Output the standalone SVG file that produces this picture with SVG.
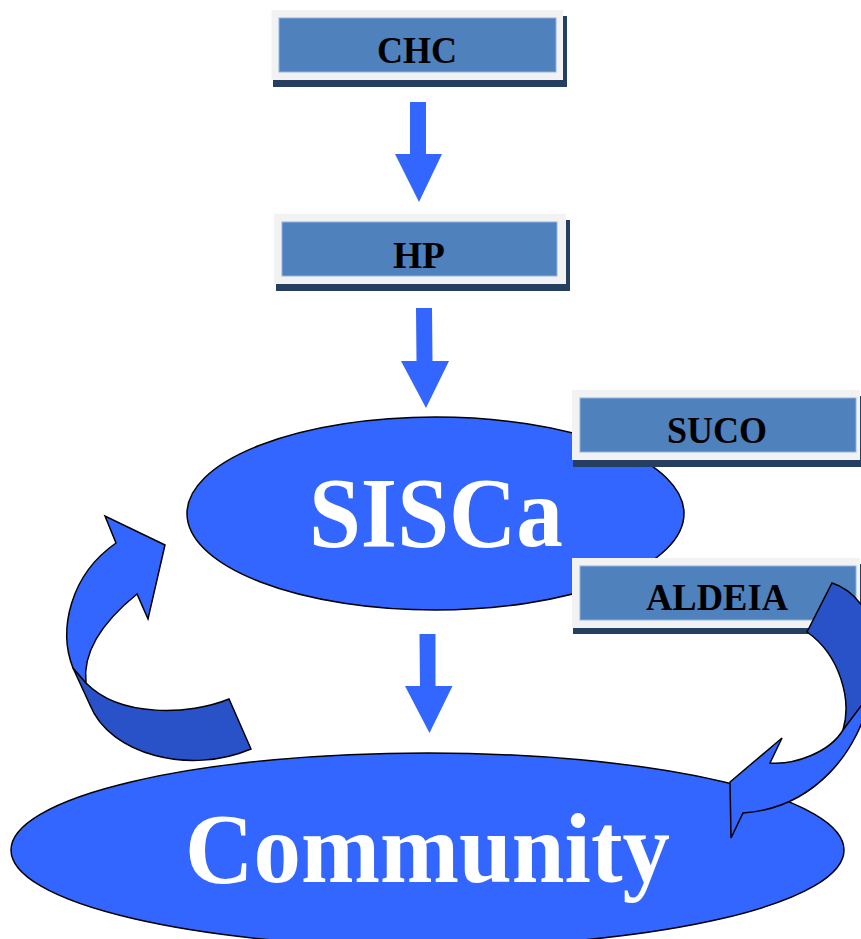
<svg xmlns="http://www.w3.org/2000/svg" width="861" height="939" viewBox="0 0 861 939">
<style>
.sh{fill:#243F60}
.outer{fill:#F2F2F2}
.inner{fill:#4F81BD;stroke:#8DB3E2;stroke-width:1}
.lbl{font-family:"Liberation Serif","Times New Roman",serif;font-weight:bold;font-size:37px;fill:#000;text-anchor:middle}
.big{font-family:"Liberation Serif","Times New Roman",serif;font-weight:bold;font-size:99px;fill:#FFF;text-anchor:middle}
.ell{fill:#3366FF;stroke:#000;stroke-width:1.5}
.arr{fill:#3366FF}
.cl{fill:#3366FF;stroke:#000;stroke-width:1.5;stroke-linejoin:miter}
.cd{fill:#2952C8;stroke:#000;stroke-width:1.5;stroke-linejoin:miter}
</style>
<rect width="861" height="939" fill="#FFFFFF"/>
<g id="sisca">
<ellipse class="ell" cx="435.5" cy="513.5" rx="248.5" ry="96.5"/>
<text class="big" x="436" y="546" textLength="254" lengthAdjust="spacingAndGlyphs">SISCa</text>
</g>
<g id="community">
<ellipse class="ell" cx="427.5" cy="850" rx="416.5" ry="97"/>
<text class="big" x="427.5" y="882" textLength="485" lengthAdjust="spacingAndGlyphs">Community</text>
</g>
<g id="chc">
<rect class="sh" x="273" y="16" width="294" height="71"/>
<rect class="outer" x="271.5" y="10" width="291.5" height="70"/>
<rect class="inner" x="279" y="18" width="277" height="54"/>
<text class="lbl" x="417" y="63" textLength="80" lengthAdjust="spacingAndGlyphs">CHC</text>
</g>
<g id="hp">
<rect class="sh" x="276" y="220" width="294" height="71"/>
<rect class="outer" x="274" y="214" width="292" height="70"/>
<rect class="inner" x="282" y="222" width="275" height="54"/>
<text class="lbl" x="419" y="268" textLength="52" lengthAdjust="spacingAndGlyphs">HP</text>
</g>
<g id="suco">
<rect class="sh" x="573" y="396" width="292" height="71"/>
<rect class="outer" x="572" y="390" width="288" height="70"/>
<rect class="inner" x="580" y="398" width="276" height="54"/>
<text class="lbl" x="717" y="443" textLength="100" lengthAdjust="spacingAndGlyphs">SUCO</text>
</g>
<g id="aldeia">
<rect class="sh" x="573" y="564" width="292" height="70"/>
<rect class="outer" x="572" y="558" width="288" height="70"/>
<rect class="inner" x="580" y="566" width="276" height="54"/>
<text class="lbl" x="717" y="610" textLength="142" lengthAdjust="spacingAndGlyphs">ALDEIA</text>
</g>
<g id="connectors">
<polygon class="arr" points="410,102 426,102 426,154 442,154 419,202 395,154 410,154"/>
<polygon class="arr" points="416,308 432,308 432.5,361 449,361 426,408 401,361 416.5,361"/>
<polygon class="arr" points="419.5,634 435.5,634 435.5,686 452.5,686 429.5,733 405,686 420,686"/>
<g id="loop-left">
<path class="cd" d="M73,668 L90,705 C110,755 190,775 251,749 L229,699 C190,715 120,718 86,683 Z"/>
<path class="cl" d="M73,668 C58,630 70,575 116,543 L105,516 L165,545 L148,619 L137,594 C105,620 82,650 86,683 Z"/>
</g>
<g id="loop-right">
<path class="cd" d="M807,632 L832,583 C855,590 880,620 878,660 C877,680 873,690 870,695 L843,730 C852,700 840,655 807,632 Z"/>
<path class="cl" d="M843,730 L870,694 C860,750 815,808 743,813 L731,838 L730,782 L782,738 L770,763 C795,765 830,752 843,730 Z"/>
</g>
</g>
</svg>
